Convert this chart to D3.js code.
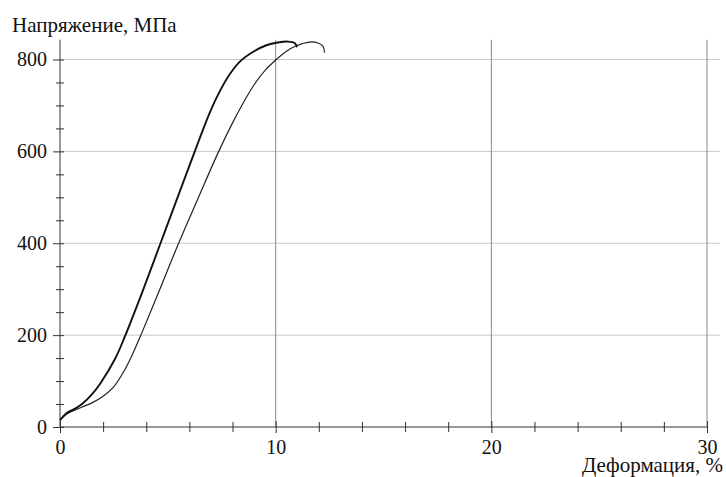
<!DOCTYPE html>
<html>
<head>
<meta charset="utf-8">
<script src="https://cdn.jsdelivr.net/npm/d3@7"></script>
<style>
  body { margin: 0; background: #fff; }
  svg text { font-family: "Liberation Serif", "Times New Roman", "DejaVu Serif", serif; fill: #111; }
</style>
</head>
<body>
<script>
"use strict";
// curve data: strain (%) and stress (MPa)
const strain1 = [0, 0.3, 0.7, 1.02, 1.5, 1.9, 2.55, 3.0, 3.85, 4.66, 5.47, 6.25, 6.94, 7.4, 7.87, 8.4, 9.0, 9.57, 10.1, 10.57, 10.88, 10.99]
const stress1 = [15, 30, 40, 50, 72, 97, 148, 196, 298, 400, 502, 600, 684, 730, 768, 798, 818, 831, 837, 839, 836, 827]
const strain2 = [0, 0.3, 0.7, 1.0, 1.5, 2.0, 2.5, 3.0, 3.33, 3.75, 4.63, 5.5, 6.44, 7.36, 8.0, 8.5, 9.0, 9.5, 10.03, 10.5, 10.96, 11.57, 11.96, 12.19, 12.27]
const stress2 = [15, 28, 37, 43, 53, 67, 88, 124, 155, 200, 300, 400, 502, 600, 662, 706, 745, 776, 800, 818, 830, 838, 836, 829, 815]

const xTicks = [0, 10, 20, 30]
const xMinor = [2, 4, 6, 8, 12, 14, 16, 18, 22, 24, 26, 28]
const yTicks = [0, 200, 400, 600, 800]
const yMinor = [50, 100, 150, 250, 300, 350, 450, 500, 550, 650, 700, 750]

const yTitle = "Напряжение, МПа"
const xTitle = "Деформация, %"

let m = { width: 726, height: 477 }
const serif = '"Liberation Serif", "Times New Roman", "DejaVu Serif", serif'

const svg = d3.select("body").append("svg")
    .attr("width", m.width)
    .attr("height", m.height)

let x = d3.scaleLinear().domain([0, 30]).range([60, 707])
let y = d3.scaleLinear().domain([0, 800]).range([427, 59.5])
const yTop = 843

// grid
svg.append("g")
  .selectAll("line")
  .data(yTicks.slice(1))
  .enter().append("line")
    .attr("x1", x(0)).attr("x2", x(30.6))
    .attr("y1", d => y(d)).attr("y2", d => y(d))
    .attr("stroke", "#c8c8c8").attr("stroke-width", 1)

svg.append("g")
  .selectAll("line")
  .data(xTicks.slice(1))
  .enter().append("line")
    .attr("x1", d => x(d)).attr("x2", d => x(d))
    .attr("y1", y(0)).attr("y2", y(yTop))
    .attr("stroke", "#8a8a8a").attr("stroke-width", 1)

// axes
function styleAxis(g) {
  g.select(".domain").remove()
  g.attr("font-family", serif)
  g.selectAll("line").attr("stroke", "#333")
  g.selectAll("text").attr("font-size", "20px").attr("fill", "#111")
}

const xAxis = svg.append("g")
    .attr("transform", "translate(0," + y(0) + ")")
    .call(d3.axisBottom(x).tickValues(xTicks).tickSize(6).tickPadding(7).tickFormat(d3.format("d")))
xAxis.selectAll(".tick line").attr("y1", -6)
styleAxis(xAxis)

const xAxisMinor = svg.append("g")
    .attr("transform", "translate(0," + y(0) + ")")
    .call(d3.axisBottom(x).tickValues(xMinor).tickSize(5).tickFormat(""))
xAxisMinor.selectAll(".tick line").attr("y1", -5)
styleAxis(xAxisMinor)

const yAxis = svg.append("g")
    .attr("transform", "translate(" + x(0) + ",0)")
    .call(d3.axisLeft(y).tickValues(yTicks).tickSize(7).tickPadding(6).tickFormat(d3.format("d")))
yAxis.selectAll(".tick line").attr("x1", 4)
styleAxis(yAxis)

const yAxisMinor = svg.append("g")
    .attr("transform", "translate(" + x(0) + ",0)")
    .call(d3.axisLeft(y).tickValues(yMinor).tickSize(4).tickFormat(""))
yAxisMinor.selectAll(".tick line").attr("x1", 4)
styleAxis(yAxisMinor)

// axis lines
svg.append("line")
  .attr("x1", x(0)).attr("x2", x(30))
  .attr("y1", y(0)).attr("y2", y(0))
  .attr("stroke", "#333").attr("stroke-width", 1)
svg.append("line")
  .attr("x1", x(0)).attr("x2", x(0))
  .attr("y1", y(0)).attr("y2", y(yTop))
  .attr("stroke", "#333").attr("stroke-width", 1)

// curves
let line = d3.line()
    .x(d => x(d[0]))
    .y(d => y(d[1]))
    .curve(d3.curveCatmullRom.alpha(0.5))

svg.append("path")
  .datum(d3.zip(strain2, stress2))
  .attr("d", line)
  .attr("fill", "none")
  .attr("stroke", "#222")
  .attr("stroke-width", 1.2)

svg.append("path")
  .datum(d3.zip(strain1, stress1))
  .attr("d", line)
  .attr("fill", "none")
  .attr("stroke", "#111")
  .attr("stroke-width", 1.9)

// titles
svg.append("text")
  .attr("x", 12).attr("y", 32)
  .attr("font-family", serif)
  .attr("font-size", "21px")
  .text(yTitle)

svg.append("text")
  .attr("x", 723).attr("y", 472)
  .attr("text-anchor", "end")
  .attr("font-family", serif)
  .attr("font-size", "21px")
  .text(xTitle)
</script>
</body>
</html>
